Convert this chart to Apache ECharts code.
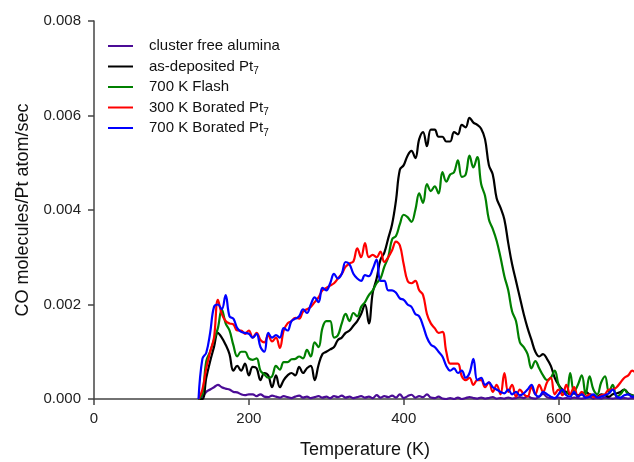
<!DOCTYPE html>
<html>
<head>
<meta charset="utf-8">
<title>CO oxidation TPR</title>
<script src="https://cdn.jsdelivr.net/npm/echarts@6/dist/echarts.min.js"></script>
<style>
  html, body { margin: 0; padding: 0; background: #fff; }
  #main { width: 634px; height: 462px; }
</style>
</head>
<body>
<div id="main"></div>
<script>
// temperature grid (K)
const temps = [
  135, 140, 145, 150, 155, 160, 165, 170, 175, 180,
  185, 190, 195, 200, 205, 210, 215, 220, 225, 230,
  235, 240, 245, 250, 255, 260, 265, 270, 275, 280,
  285, 290, 295, 300, 305, 310, 315, 320, 325, 330,
  335, 340, 345, 350, 355, 360, 365, 370, 375, 380,
  385, 390, 395, 400, 405, 410, 415, 420, 425, 430,
  435, 440, 445, 450, 455, 460, 465, 470, 475, 480,
  485, 490, 495, 500, 505, 510, 515, 520, 525, 530,
  535, 540, 545, 550, 555, 560, 565, 570, 575, 580,
  585, 590, 595, 600, 605, 610, 615, 620, 625, 630,
  635, 640, 645, 650, 655, 660, 665, 670, 675, 680,
  685, 690, 695, 700
];

// CO molecules / Pt atom / sec, in units of 1e-3
const clusterFree = [
  0, 0.05, 0.15, 0.2, 0.25, 0.3, 0.25, 0.22, 0.2, 0.15,
  0.14, 0.1, 0.08, 0.1, 0.1, 0.06, 0.1, 0.05, 0.04, 0.07,
  0.05, 0.03, 0.06, 0.04, 0.02, 0.05, 0.07, 0.03, 0.05, 0.02,
  0.04, 0.06, 0.03, 0.05, 0.02, 0.06, 0.04, 0.07, 0.03, 0.05,
  0.02, 0.04, 0.06, 0.03, 0.05, 0.02, 0.08, 0.03, 0.06, 0.04,
  0.07, 0.03, 0.1, 0.02, 0.06, 0.09, 0.03, 0.06, 0.04, 0.1,
  0.03, 0.02, 0.05, 0.01, 0, 0.02, 0, 0.03, 0, 0.02,
  0.04, 0.02, 0.01, 0.03, 0.01, 0.02, 0.04, 0.01, 0.02, 0.01,
  0.03, 0.01, 0.02, 0.04, 0.02, 0.06, 0.02, 0.01, 0.05, 0.11,
  0.04, 0.02, 0.01, 0.03, 0.01, 0.02, 0.01, 0.03, 0.02, 0.01,
  0.02, 0.04, 0.01, 0.02, 0.01, 0.03, 0.02, 0.01, 0.02, 0.01,
  0.02, 0.01, 0.02, 0.01
];
const asDeposited = [
  0, 0, 0.45, 0.8, 1.1, 1.4, 1.3, 1.15, 0.95, 0.6,
  0.7, 0.6, 0.75, 0.5, 0.68, 0.65, 0.4, 0.55, 0.5, 0.25,
  0.5, 0.25, 0.4, 0.5, 0.55, 0.5, 0.68, 0.55, 0.65, 0.7,
  0.4, 0.72, 0.95, 1.0, 1.05, 1.1, 1.25, 1.3, 1.4, 1.45,
  1.55, 1.65, 1.8, 2.0, 1.6, 2.25, 2.55, 2.95, 3.1, 3.4,
  3.7, 4.2, 4.85, 4.95, 5.15, 5.25, 5.1, 5.5, 5.65, 5.35,
  5.7, 5.7, 5.55, 5.55, 5.45, 5.45, 5.65, 5.6, 5.8, 5.75,
  5.95, 5.85, 5.8, 5.72, 5.5, 4.95, 4.75, 4.25, 4.05, 3.8,
  3.3, 2.85, 2.5, 2.15, 1.8, 1.5, 1.25, 1.0, 0.9, 0.95,
  0.85, 0.7, 0.45, 0.3, 0.2, 0.15, 0.1, 0.12, 0.08, 0.1,
  0.15, 0.1, 0.08, 0.05, 0.1, 0.08, 0.05, 0.1, 0.12, 0.15,
  0.2, 0.12, 0.08, 0.05
];
const flash700 = [
  0, 0.1, 0.8, 1.0, 1.25, 1.5, 1.9, 1.6, 1.45, 1.14,
  0.9, 1.0, 1.0, 0.86, 0.83, 0.86, 0.6, 0.52, 0.45, 0.48,
  0.7, 0.62, 0.78, 0.78, 0.84, 0.85, 0.9, 0.86, 1.04, 0.9,
  1.2, 1.1, 1.5, 1.65, 1.65, 1.3, 1.35, 1.6, 1.8, 1.65,
  1.82, 1.75, 1.95, 2.05, 2.2, 2.3, 2.45, 2.55, 2.8, 3.0,
  3.38, 3.45, 3.7, 3.9, 3.85, 3.75, 4.0, 4.35, 4.15, 4.55,
  4.4, 4.5, 4.35, 4.8, 4.6, 4.75, 4.8, 5.05, 4.7, 4.75,
  5.15, 4.9, 5.12, 4.55, 4.3, 3.8, 3.6, 3.35, 3.0, 2.6,
  2.3, 1.85, 1.65, 1.2, 1.1, 0.95, 0.65, 0.8, 0.65, 0.5,
  0.4, 0.45, 0.6, 0.3, 0.15, 0.1, 0.55, 0.15, 0.3, 0.5,
  0.1, 0.48, 0.2, 0.1, 0.35, 0.48, 0.15, 0.3, 0.05, 0.1,
  0.2, 0.1, 0.08, 0.05
];
const borated300 = [
  0, 0.2, 0.65, 1.0, 1.3, 2.1, 1.8, 1.65, 1.6, 1.58,
  1.45, 1.45, 1.38, 1.45, 1.3, 1.4, 1.25, 1.2, 1.35, 1.22,
  1.3, 1.08, 1.45, 1.6, 1.65, 1.72, 1.7, 1.85, 1.9, 1.95,
  2.05, 2.15, 2.3, 2.35, 2.4, 2.45, 2.55, 2.65, 2.8, 2.87,
  2.91, 3.19, 3.0, 3.3, 3.0, 3.05, 3.0, 3.12, 2.9, 3.0,
  3.15, 3.33, 3.25, 2.85, 2.5, 2.45, 2.5, 2.3, 2.2, 1.8,
  1.6, 1.5, 1.4, 1.42, 1.0, 0.75, 0.75, 0.75, 0.48, 0.4,
  0.45, 0.3, 0.4, 0.4, 0.25, 0.35, 0.15, 0.3, 0.1, 0.55,
  0.15, 0.3, 0.05, 0.2, 0.1, 0.05, 0.25, 0.1, 0.3, 0.15,
  0.35, 0.45, 0.1, 0.2, 0.08, 0.3, 0.1, 0.25, 0.05, 0.15,
  0.05, 0.1, 0.05, 0.03, 0.08, 0.1, 0.2, 0.2, 0.25, 0.35,
  0.45, 0.5, 0.6, 0.55
];
const borated700 = [
  0, 0.85, 0.98, 1.4, 1.95, 2.0, 1.9, 2.2, 1.75, 1.7,
  1.5, 1.42, 1.4, 1.38, 1.3, 1.38, 1.1, 1.0, 1.4, 1.3,
  1.35, 1.3, 1.5, 1.45, 1.65, 1.7, 1.75, 1.9, 1.82, 2.0,
  2.15, 2.05, 2.35, 2.3, 2.45, 2.65, 2.55, 2.65, 2.9, 2.85,
  2.65, 2.55, 2.5, 2.62, 2.6, 2.75, 2.95, 2.5, 2.5, 2.3,
  2.3, 2.25, 2.13, 2.1, 2.0, 1.95, 1.8, 1.75, 1.55, 1.3,
  1.15, 1.1, 1.0, 0.9, 0.7, 0.6, 0.65, 0.55, 0.6, 0.45,
  0.55, 0.85, 0.4, 0.45, 0.3, 0.35, 0.25, 0.2, 0.15, 0.12,
  0.2, 0.1, 0.15, 0.08, 0.12, 0.2, 0.3, 0.1, 0.05, 0.15,
  0.1, 0.05, 0.02, 0.1, 0.2, 0.08, 0.05, 0.15, 0.05, 0.1,
  0.03, 0.05, 0.1, 0.03, 0.05, 0.08, 0.12, 0.2, 0.05, 0.03,
  0.08, 0.1, 0.05, 0.05
];

const seriesNames = ['cluster free alumina', 'as-deposited Pt7', '700 K Flash', '300 K Borated Pt7', '700 K Borated Pt7'];
const seriesColors = ['#4b0c96', '#000000', '#008000', '#ff0000', '#0000ff'];
const seriesValues = [clusterFree, asDeposited, flash700, borated300, borated700];

const font = "'Liberation Sans', Arial, sans-serif";

const chart = echarts.init(document.getElementById('main'), null, { renderer: 'canvas' });

const option = {
  animation: false,
  backgroundColor: '#fff',
  textStyle: { fontFamily: font },
  grid: { left: 94, right: -2, top: 21, bottom: 63, containLabel: false, outerBoundsMode: 'none' },
  legend: {
    orient: 'vertical',
    left: 103,
    top: 31,
    icon: 'rect',
    itemWidth: 25,
    itemHeight: 2,
    itemGap: 0.5,
    data: seriesNames,
    formatter: function (name) {
      return name.replace(/Pt7$/, 'Pt{sub|7}');
    },
    textStyle: {
      fontFamily: font,
      fontSize: 15,
      color: '#111',
      lineHeight: 20,
      padding: [0, 0, 0, 11],
      rich: {
        sub: { fontFamily: font, fontSize: 10, color: '#111', lineHeight: 12, verticalAlign: 'bottom' }
      }
    }
  },
  xAxis: {
    type: 'value',
    min: 0,
    max: 700,
    interval: 200,
    name: 'Temperature (K)',
    nameLocation: 'middle',
    nameGap: 42,
    nameTextStyle: { fontFamily: font, fontSize: 18, color: '#111' },
    axisLine: { show: true, onZero: false, lineStyle: { color: '#444', width: 1.5 } },
    axisTick: { show: true, length: 6, lineStyle: { color: '#444', width: 1.5 } },
    axisLabel: { fontFamily: font, fontSize: 15, color: '#222', margin: 12, showMaxLabel: false },
    splitLine: { show: false }
  },
  yAxis: {
    type: 'value',
    min: 0,
    max: 0.008,
    interval: 0.002,
    name: 'CO molecules/Pt atom/sec',
    nameLocation: 'middle',
    nameGap: 62,
    nameTextStyle: { fontFamily: font, fontSize: 18, color: '#111' },
    axisLine: { show: true, lineStyle: { color: '#444', width: 1.5 } },
    axisTick: { show: true, length: 6, lineStyle: { color: '#444', width: 1.5 } },
    axisLabel: {
      fontFamily: font, fontSize: 15, color: '#222', margin: 13,
      formatter: function (v) { return v.toFixed(3); }
    },
    splitLine: { show: false }
  },
  series: seriesNames.map(function (name, k) {
    return {
      name: name,
      type: 'line',
      data: temps.map(function (t, i) { return [t, seriesValues[k][i] * 1e-3]; }),
      showSymbol: false,
      symbol: 'none',
      smooth: 0.4,
      color: seriesColors[k],
      lineStyle: { width: 2.2, color: seriesColors[k] },
      emphasis: { disabled: true }
    };
  })
};

chart.setOption(option);
window.addEventListener('resize', function () {
  chart.resize();
});
</script>
</body>
</html>
